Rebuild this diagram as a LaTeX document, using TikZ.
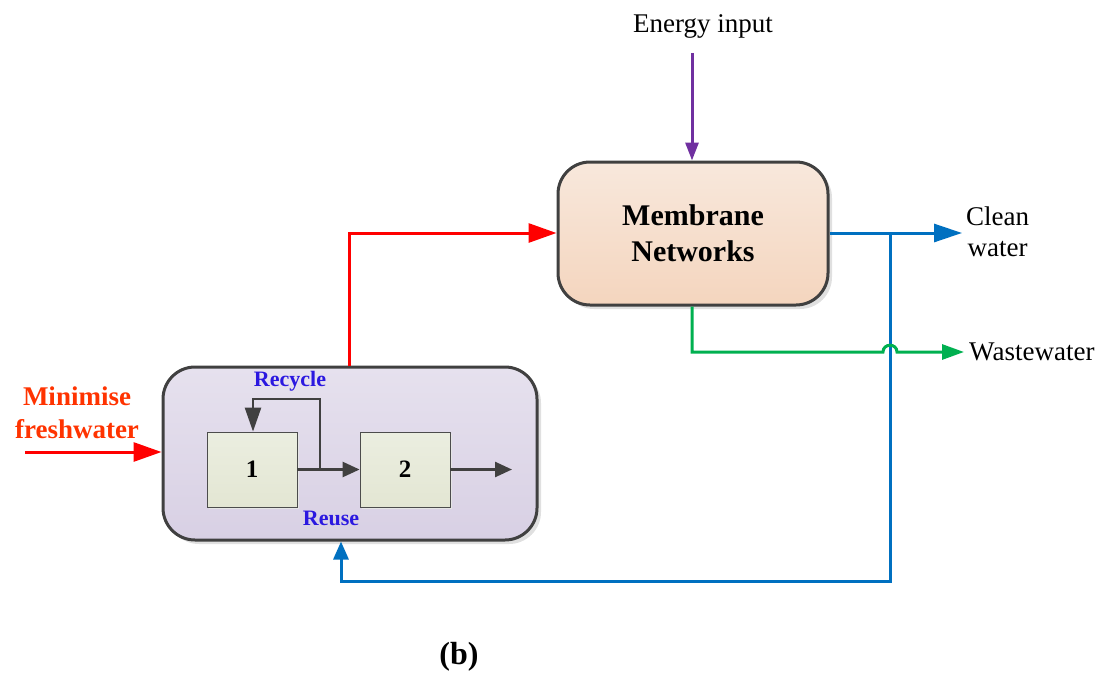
\documentclass[tikz,border=0pt]{standalone}
\usepackage{fontspec}
\setmainfont{Liberation Serif}
\usetikzlibrary{arrows.meta,shadows,calc}
\definecolor{cred}{HTML}{FF0000}
\definecolor{corange}{HTML}{FF3300}
\definecolor{cblue}{HTML}{0070C0}
\definecolor{cgreen}{HTML}{00B050}
\definecolor{cpurple}{HTML}{7030A0}
\definecolor{clabel}{HTML}{2B18E0}
\definecolor{cdark}{HTML}{404040}
\definecolor{memtop}{HTML}{F8E8DC}
\definecolor{membot}{HTML}{F4D5BE}
\definecolor{plttop}{HTML}{E6E1EE}
\definecolor{pltbot}{HTML}{D8D0E4}
\definecolor{unittop}{HTML}{EBEEE0}
\definecolor{unitbot}{HTML}{E3E6D3}
\tikzset{
  bigbox/.style={draw=cdark, line width=3pt, rounded corners=32pt, inner sep=0pt,
    drop shadow={shadow xshift=4pt, shadow yshift=-4pt, fill=black!12, opacity=1}},
  unitbox/.style={draw=black!70, line width=0.8pt, minimum width=90pt, minimum height=75pt,
    top color=unittop, bottom color=unitbot, inner sep=0pt,
    font=\fontsize{25}{28}\selectfont\bfseries,
    drop shadow={shadow xshift=2pt, shadow yshift=-2pt, fill=black!10, opacity=1}},
  flow/.style={line width=3pt},
  small/.style={line width=2.5pt, draw=cdark, -{Triangle[length=17pt,width=15pt]}},
  txt/.style={font=\fontsize{27}{31}\selectfont, align=center, inner sep=0pt},
}
\begin{document}
\begin{tikzpicture}[x=1pt,y=-1pt]
\useasboundingbox (0,0) rectangle (1105,677);
% main boxes
\node[bigbox, minimum width=270pt, minimum height=143pt, top color=memtop, bottom color=membot,
  font=\fontsize{30}{36}\selectfont\bfseries, align=center] (mem) at (693,233.5) {Membrane\\Networks};
\node[bigbox, minimum width=374pt, minimum height=173pt, top color=plttop, bottom color=pltbot] (plant) at (350,453.5) {};
\node[unitbox] (u1) at (252,469.5) {1};
\node[unitbox] (u2) at (405,469.5) {2};
% texts
\node[txt] (energy) at (703,26) {Energy input};
\node[txt, text=corange, font=\fontsize{27}{33}\selectfont\bfseries] (fresh) at (77,413) {Minimise\\freshwater};
\node[txt, anchor=west] (clean) at (966,232) {Clean\\water};
\node[txt, anchor=west] (waste) at (969,352) {Wastewater};
\node[txt, text=clabel, font=\fontsize{22}{24}\selectfont\bfseries] (recycle) at (290,381) {Recycle};
\node[txt, text=clabel, font=\fontsize{22}{24}\selectfont\bfseries] (reuse) at (331,518) {Reuse};
\node[txt, font=\fontsize{32}{36}\selectfont\bfseries] (lab) at (459,657) {(b)};
% coordinates
\coordinate (split) at (320,469.5);
\coordinate (outend) at (512,469.5);
\coordinate (cleanend) at (962,233);
\coordinate (tee) at (890,233);
\coordinate (wasteend) at (964,352);
% small flows
\draw[small] (u1.east) -- (u2.west);
\draw[small, -{Triangle[length=24pt,width=16pt]}] (split) -- (320,399) -- (253,399) -- (u1.north -| 253,0);
\draw[small] (u2.east) -- (outend);
% energy
\draw[flow, draw=cpurple, -{Triangle[length=18pt,width=13pt]}] (692,53) -- (mem.north -| 692,0);
% red
\draw[flow, draw=cred, -{Triangle[length=28pt,width=19pt]}] (plant.north -| 349,0) |- (mem.west |- 0,233);
\draw[flow, draw=cred, -{Triangle[length=28pt,width=19pt]}] (25,452) -- (plant.west |- 0,452);
% blue
\draw[flow, draw=cblue, -{Triangle[length=28pt,width=18pt]}] (mem.east |- tee) -- (cleanend);
\draw[flow, draw=cblue, -{Triangle[length=18pt,width=15pt]}] (tee) -- (890,581) -| (plant.south -| 341,0);
% green
\draw[flow, draw=cgreen, -{Triangle[length=22pt,width=15pt]}] (mem.south -| 692,0) -- (692,352) -- (883,352)
  .. controls (883,343) and (897,343) .. (897,352) -- (wasteend);
\end{tikzpicture}
\end{document}
